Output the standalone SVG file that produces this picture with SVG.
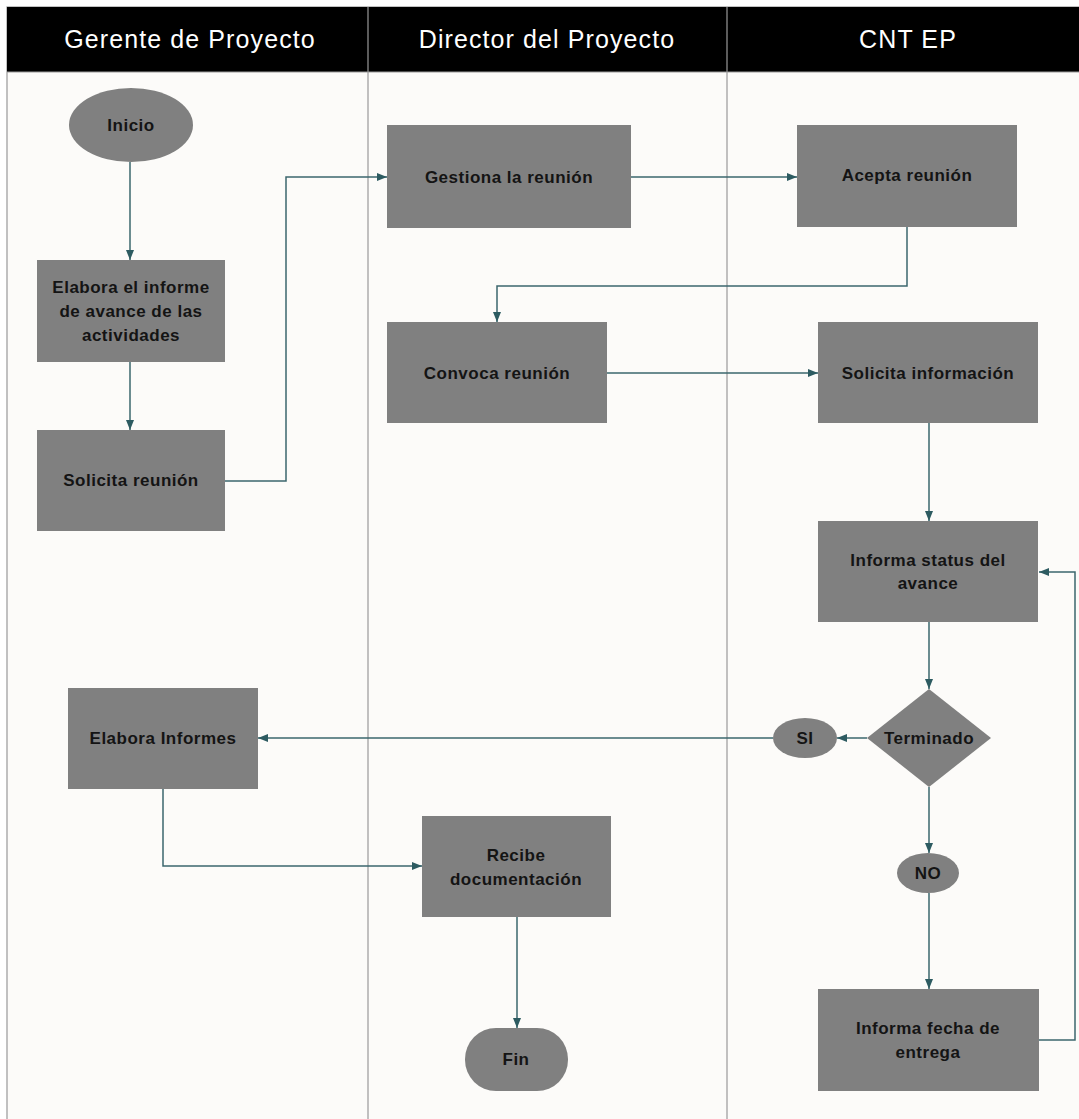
<svg xmlns="http://www.w3.org/2000/svg" width="1079" height="1119" viewBox="0 0 1079 1119">
<defs>
<marker id="ah" viewBox="0 0 10 8" refX="10" refY="4" markerWidth="10" markerHeight="8" markerUnits="userSpaceOnUse" orient="auto">
<path d="M0,0 L10,4 L0,8 Z" fill="#2d5b61"/>
</marker>
<style>
.hdr{font-family:"Liberation Sans",Arial,sans-serif;font-size:25px;fill:#ffffff;text-anchor:middle;letter-spacing:1.1px}
.nd{fill:#808080}
.t{font-family:"Liberation Sans",Arial,sans-serif;font-size:17px;font-weight:bold;fill:#141414;text-anchor:middle;letter-spacing:0.5px}
.c{fill:none;stroke:#3b676d;stroke-width:1.5}
.lane{stroke:#999999;stroke-width:1.2}
</style>
</defs>
<rect x="0" y="0" width="1079" height="1119" fill="#ffffff"/>
<g id="pool">
<rect x="7" y="7" width="1085" height="1125" fill="#fcfbf9" stroke="#999999" stroke-width="1.2"/>
<rect x="7" y="7" width="1085" height="65" fill="#000000"/>
<line class="lane" x1="7" y1="72" x2="1079" y2="72"/>
<line class="lane" x1="368" y1="7" x2="368" y2="1119"/>
<line class="lane" x1="727" y1="7" x2="727" y2="1119"/>
<text class="hdr" x="190" y="48">Gerente de Proyecto</text>
<text class="hdr" x="547" y="48">Director del Proyecto</text>
<text class="hdr" x="908" y="48">CNT EP</text>
</g>
<g id="connectors">
<path class="c" d="M130,162 L130,260" marker-end="url(#ah)"/>
<path class="c" d="M130,362 L130,430" marker-end="url(#ah)"/>
<path class="c" d="M225,481 L286,481 L286,177 L387,177" marker-end="url(#ah)"/>
<path class="c" d="M631,177 L797,177" marker-end="url(#ah)"/>
<path class="c" d="M907,227 L907,286 L497,286 L497,322" marker-end="url(#ah)"/>
<path class="c" d="M607,373 L818,373" marker-end="url(#ah)"/>
<path class="c" d="M929,423 L929,521" marker-end="url(#ah)"/>
<path class="c" d="M929,622 L929,689" marker-end="url(#ah)"/>
<path class="c" d="M867,738 L837,738" marker-end="url(#ah)"/>
<path class="c" d="M773,738 L258,738" marker-end="url(#ah)"/>
<path class="c" d="M163,789 L163,866 L422,866" marker-end="url(#ah)"/>
<path class="c" d="M517,917 L517,1028" marker-end="url(#ah)"/>
<path class="c" d="M929,787 L929,853" marker-end="url(#ah)"/>
<path class="c" d="M929,893 L929,989" marker-end="url(#ah)"/>
<path class="c" d="M1039,1040 L1075,1040 L1075,572 L1039,572" marker-end="url(#ah)"/>
</g>
<g id="inicio">
<ellipse class="nd" cx="131" cy="125" rx="62" ry="37"/>
<text class="t" x="131" y="131">Inicio</text>
</g>
<g id="elabora-informe">
<rect class="nd" x="37" y="260" width="188" height="102"/>
<text class="t" x="131" y="293">Elabora el informe</text>
<text class="t" x="131" y="317">de avance de las</text>
<text class="t" x="131" y="341">actividades</text>
</g>
<g id="solicita-reunion">
<rect class="nd" x="37" y="430" width="188" height="101"/>
<text class="t" x="131" y="486">Solicita reunión</text>
</g>
<g id="gestiona">
<rect class="nd" x="387" y="125" width="244" height="103"/>
<text class="t" x="509" y="183">Gestiona la reunión</text>
</g>
<g id="acepta">
<rect class="nd" x="797" y="125" width="220" height="102"/>
<text class="t" x="907" y="181">Acepta reunión</text>
</g>
<g id="convoca">
<rect class="nd" x="387" y="322" width="220" height="101"/>
<text class="t" x="497" y="379">Convoca reunión</text>
</g>
<g id="solicita-info">
<rect class="nd" x="818" y="322" width="220" height="101"/>
<text class="t" x="928" y="379">Solicita información</text>
</g>
<g id="informa-status">
<rect class="nd" x="818" y="521" width="220" height="101"/>
<text class="t" x="928" y="566">Informa status del</text>
<text class="t" x="928" y="589">avance</text>
</g>
<g id="terminado">
<polygon class="nd" points="929,689 991,738 929,787 867,738"/>
<text class="t" x="929" y="744">Terminado</text>
</g>
<g id="si">
<ellipse class="nd" cx="805" cy="738" rx="32" ry="20"/>
<text class="t" x="805" y="744">SI</text>
</g>
<g id="no">
<ellipse class="nd" cx="928" cy="873" rx="31" ry="20"/>
<text class="t" x="928" y="879">NO</text>
</g>
<g id="informa-fecha">
<rect class="nd" x="818" y="989" width="221" height="102"/>
<text class="t" x="928" y="1034">Informa fecha de</text>
<text class="t" x="928" y="1058">entrega</text>
</g>
<g id="elabora-informes">
<rect class="nd" x="68" y="688" width="190" height="101"/>
<text class="t" x="163" y="744">Elabora Informes</text>
</g>
<g id="recibe">
<rect class="nd" x="422" y="816" width="189" height="101"/>
<text class="t" x="516" y="861">Recibe</text>
<text class="t" x="516" y="885">documentación</text>
</g>
<g id="fin">
<rect class="nd" x="465" y="1028" width="103" height="63" rx="31" ry="31"/>
<text class="t" x="516" y="1065">Fin</text>
</g>
</svg>
